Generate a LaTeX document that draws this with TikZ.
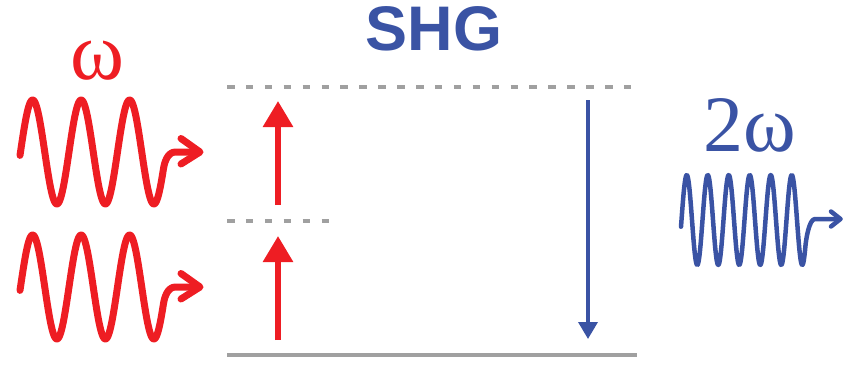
\documentclass[tikz,border=0pt]{standalone}
\usepackage{fontspec}
\newfontfamily\shgfont{Liberation Sans}
\newfontfamily\grfont{Liberation Serif}
\usetikzlibrary{arrows.meta}
\definecolor{shgred}{HTML}{EE1D23}
\definecolor{shgblue}{HTML}{3A53A4}
\definecolor{levelgray}{HTML}{A0A0A0}
\tikzset{
  redwave/.style={draw=shgred, line width=7pt, line cap=round, line join=round},
  bluewave/.style={draw=shgblue, line width=4.5pt, line cap=round, line join=round},
  virtlevel/.style={draw=levelgray, line width=3.3pt, dash pattern=on 7.5pt off 11.4pt},
  groundlevel/.style={draw=levelgray, line width=3.6pt},
  redarrow/.style={draw=shgred, line width=6pt, -{Triangle[length=26pt,width=29pt]}, shgred},
  bluearrow/.style={draw=shgblue, line width=3.6pt, -{Triangle[length=17pt,width=19pt]}, shgblue},
  bigtxt/.style={inner sep=0pt, anchor=base},
}
\begin{document}
\begin{tikzpicture}[x=1pt,y=-1pt]
\useasboundingbox (0,0) rectangle (843,369);
% titles
\node[bigtxt, text=shgblue, font={\shgfont\bfseries\fontsize{63}{63}\selectfont}] (shg) at (434,51) {SHG};
\node[bigtxt, text=shgred, font={\grfont\fontsize{82}{82}\selectfont}] (omega) at (97,79) {ω};
\node[bigtxt, text=shgblue, font={\grfont\fontsize{80}{80}\selectfont}] (twoomega) at (750,151) {2ω};
% levels
\coordinate (top-l) at (227,87); \coordinate (top-r) at (632,87);
\coordinate (mid-l) at (227,221); \coordinate (mid-r) at (330,221);
\coordinate (gnd-l) at (227,355); \coordinate (gnd-r) at (637,355);
\draw[virtlevel] (top-l) -- (top-r);
\draw[virtlevel] (mid-l) -- (mid-r);
\draw[groundlevel] (gnd-l) -- (gnd-r);
% transitions
\coordinate (a1s) at (278,340); \coordinate (a1e) at (278,236);
\coordinate (a2s) at (278,205); \coordinate (a2e) at (278,101);
\coordinate (bs) at (588,100); \coordinate (be) at (588,339);
\draw[redarrow] (a1s) -- (a1e);
\draw[redarrow] (a2s) -- (a2e);
\draw[bluearrow] (bs) -- (be);
% red waves
\foreach \c in {152,287}{
  \draw[redwave] plot[domain=20:163.5, samples=220, smooth] (\x, {\c-52*sin(7.4227*(\x-20.5))})
     .. controls (164.3,\c+11.5) and (167,\c+0.5) .. (175,\c) -- (199,\c);
  \draw[redwave] (181,\c-13.5) -- (200,\c) -- (181,\c+12);
}
% blue wave
\draw[bluewave] plot[domain=681:805.5, samples=300, smooth] (\x, {220-45*sin(17.1429*(\x-681.5))})
   .. controls (806,240) and (809,219) .. (815,219) -- (840,219);
\draw[bluewave] (831,211.5) -- (840.5,219) -- (831,226.5);
\end{tikzpicture}
\end{document}
